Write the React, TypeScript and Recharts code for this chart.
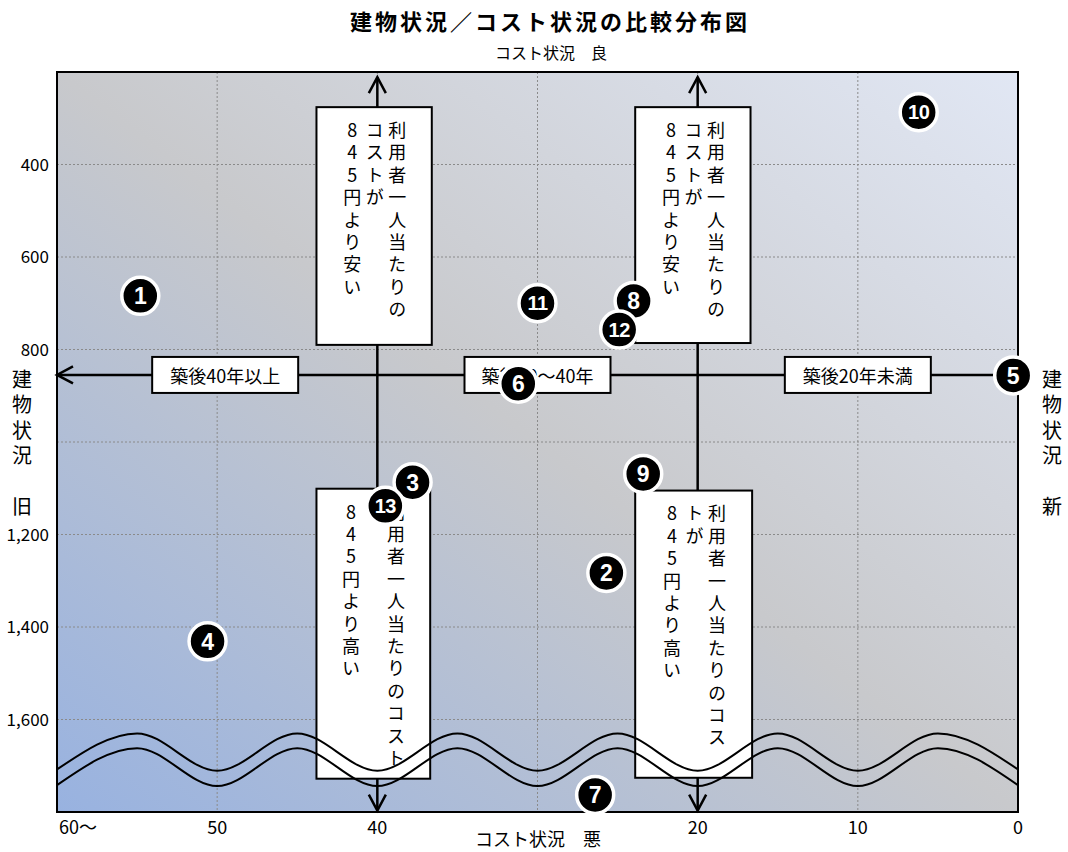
import React from 'react';
import {
  ComposedChart,
  XAxis,
  YAxis,
  CartesianGrid,
  Scatter,
  Line,
  ReferenceArea,
  ReferenceLine,
  ReferenceDot,
} from 'recharts';

const W = 1068;
const H = 852;
const FONT = "'Noto Sans CJK JP', 'Noto Sans', sans-serif";
const NUM_FONT = "'Liberation Sans Narrow', 'Liberation Sans', Arial, sans-serif";
const VERTICAL = { writingMode: 'vertical-rl', textOrientation: 'upright' } as any;

// 横軸: 築年数（年）、縦軸: 利用者一人当たりのコスト（円）
const ageTicks = [60, 50, 40, 30, 20, 10, 0];
const costTicks = [400, 600, 800, 1000, 1200, 1400, 1600];

// 施設番号ごとの位置
const facilityIds = [1, 2, 3, 4, 5, 6, 7, 8, 9, 10, 11, 12, 13];
const facilityAges = [54.8, 25.7, 37.8, 50.6, 0.3, 31.2, 26.4, 24.0, 23.4, 6.2, 30.0, 24.9, 39.5];
const facilityCosts = [684, 1283, 1087, 1431, 856, 874, 1763, 695, 1069, 287, 700, 757, 1138];

// 区分線
const ageThresholds = [40, 20];
const costThreshold = 855;

// 区分ラベル
const bandLabels = ['築後40年以上', '築後20～40年', '築後20年未満'];
const bandCenters = [49.5, 30, 10];

// 波線（省略記号）
const waveAges = [60, 55, 50, 45, 40, 35, 30, 25, 20, 15, 10, 5, 0];
const waveUpper = [1708, 1630, 1711, 1630, 1711, 1630, 1711, 1630, 1711, 1630, 1711, 1630, 1708];
const waveLower = [1742, 1662, 1744, 1662, 1744, 1662, 1744, 1662, 1744, 1662, 1744, 1662, 1742];

// 説明ボックス
const notes = [
  { a1: 43.8, a2: 36.6, c1: 276, c2: 790, cols: ['利用者一人当たりの', 'コストが', '845円より安い'] },
  { a1: 23.9, a2: 16.7, c1: 276, c2: 786, cols: ['利用者一人当たりの', 'コストが', '845円より安い'] },
  { a1: 43.8, a2: 36.7, c1: 1101, c2: 1728, cols: ['利用者一人当たりのコスト', '', '845円より高い'] },
  { a1: 23.9, a2: 16.6, c1: 1105, c2: 1726, cols: ['利用者一人当たりのコス', 'トが', '845円より高い'] },
];

const facilities = facilityIds.map((id, i) => ({ id, age: facilityAges[i], cost: facilityCosts[i] }));
const waveData = waveAges.map((age, i) => ({ age, upper: waveUpper[i], lower: waveLower[i] }));

const head = (tx: number, ty: number, fx: number, fy: number) => {
  const dx = fx - tx;
  const dy = fy - ty;
  const len = Math.hypot(dx, dy) || 1;
  const ux = dx / len;
  const uy = dy / len;
  const bx = tx + ux * 16;
  const by = ty + uy * 16;
  const px = -uy * 8.5;
  const py = ux * 8.5;
  return `M ${bx + px} ${by + py} L ${tx} ${ty} L ${bx - px} ${by - py}`;
};

const Arrow = (props: any) => {
  const { x1, y1, x2, y2, both } = props;
  return (
    <g>
      <line x1={x1} y1={y1} x2={x2} y2={y2} stroke="#000" strokeWidth={2.5} />
      <path d={head(x1, y1, x2, y2)} fill="none" stroke="#000" strokeWidth={2.5} />
      {both && <path d={head(x2, y2, x1, y1)} fill="none" stroke="#000" strokeWidth={2.5} />}
    </g>
  );
};

const NoteBox = (props: any) => {
  const { x, y, width, height, cols } = props;
  return (
    <g>
      <rect x={x} y={y} width={width} height={height} fill="#fff" stroke="#000" strokeWidth={2} />
      {cols.map((col: string, ci: number) =>
        col ? (
          <text
            key={ci}
            x={x + width * 0.7 - ci * 22.5}
            y={y + 14}
            fontSize={18}
            fontFamily={FONT}
            fill="#000"
            letterSpacing={4.4}
            style={VERTICAL}
          >
            {col}
          </text>
        ) : null
      )}
    </g>
  );
};

const BandLabel = (props: any) => {
  const { cx, cy, text } = props;
  return (
    <g>
      <rect x={cx - 73} y={cy - 18} width={146} height={36} fill="#fff" stroke="#000" strokeWidth={2} />
      <text x={cx} y={cy} textAnchor="middle" dominantBaseline="central" fontSize={18} fontFamily={FONT} fill="#000">
        {text}
      </text>
    </g>
  );
};

const Marker = (props: any) => {
  const { cx, cy, payload } = props;
  const label = String(payload.id);
  const two = label.length > 1;
  return (
    <g>
      <circle cx={cx} cy={cy} r={18.5} fill="#000" stroke="#fff" strokeWidth={3.5} />
      <text
        x={cx}
        y={cy}
        dy="0.36em"
        textAnchor="middle"
        fill="#fff"
        fontSize={two ? 20 : 23}
        fontWeight="bold"
        fontFamily={NUM_FONT}
        letterSpacing={two ? -0.5 : 0}
      >
        {label}
      </text>
    </g>
  );
};

const AgeTick = (props: any) => {
  const { x, y, payload } = props;
  const v = payload.value;
  if (v === 30) return null;
  const text = v === 60 ? '60～' : String(v);
  return (
    <text x={v === 60 ? x + 2 : x} y={y} dy={14} textAnchor={v === 60 ? 'start' : 'middle'} fontSize={18} fontFamily={FONT} fill="#000">
      {text}
    </text>
  );
};

const CostTick = (props: any) => {
  const { x, y, payload } = props;
  const v = payload.value;
  if (v === 1000) return null;
  return (
    <text x={x} y={y} dy={6} textAnchor="end" fontSize={17} fontFamily={FONT} fill="#000">
      {v.toLocaleString('en-US')}
    </text>
  );
};

const SideLabel = ({ x, end }: { x: number; end: string }) => (
  <g>
    <text x={x} y={369} fontSize={20} fontFamily={FONT} letterSpacing={5.5} style={VERTICAL}>
      建物状況
    </text>
    <text x={x} y={505} textAnchor="middle" dominantBaseline="central" fontSize={20} fontFamily={FONT}>
      {end}
    </text>
  </g>
);

export default function App() {
  return (
    <div style={{ position: 'absolute', left: 0, top: 0, width: W, height: H, background: '#fff' }}>
      <ComposedChart width={W} height={H} margin={{ top: 72, right: 50, bottom: 0, left: 7 }}>
        <defs>
          <linearGradient id="bgGrad" x1="0" y1="1" x2="1" y2="0">
            <stop offset="0%" stopColor="#98b2e0" />
            <stop offset="50%" stopColor="#c8c9cc" />
            <stop offset="100%" stopColor="#e1e7f4" />
          </linearGradient>
        </defs>
        <CartesianGrid
          fill="url(#bgGrad)"
          fillOpacity={1}
          stroke="#8a8a8a"
          strokeDasharray="2 2"
          horizontalValues={costTicks}
          verticalValues={ageTicks}
        />
        <XAxis
          type="number"
          dataKey="age"
          domain={[0, 60]}
          reversed
          ticks={ageTicks}
          tick={<AgeTick />}
          tickLine={false}
          axisLine={{ stroke: '#000', strokeWidth: 2 }}
          height={40}
          interval={0}
        />
        <YAxis
          type="number"
          dataKey="cost"
          domain={[200, 1800]}
          reversed
          ticks={costTicks}
          tick={<CostTick />}
          tickLine={false}
          axisLine={{ stroke: '#000', strokeWidth: 2 }}
          width={50}
          interval={0}
        />
        <ReferenceArea x1={0} x2={60} y1={200} y2={1800} fill="none" stroke="#000" strokeWidth={2} zIndex={120} />
        <ReferenceLine
          segment={[{ x: 60, y: costThreshold }, { x: 0, y: costThreshold }]}
          shape={(p: any) => <Arrow {...p} both={false} />}
          zIndex={150}
        />
        {ageThresholds.map((a) => (
          <ReferenceLine
            key={a}
            segment={[{ x: a, y: 211 }, { x: a, y: 1797 }]}
            shape={(p: any) => <Arrow {...p} both />}
            zIndex={150}
          />
        ))}
        {notes.map((n, i) => (
          <ReferenceArea
            key={i}
            x1={n.a1}
            x2={n.a2}
            y1={n.c1}
            y2={n.c2}
            shape={(p: any) => <NoteBox {...p} cols={n.cols} />}
            zIndex={200}
          />
        ))}
        {bandLabels.map((t, i) => (
          <ReferenceDot
            key={t}
            x={bandCenters[i]}
            y={costThreshold}
            shape={(p: any) => <BandLabel {...p} text={t} />}
            zIndex={250}
          />
        ))}
        <Line data={waveData} type="monotone" dataKey="upper" stroke="#000" strokeWidth={2} dot={false} activeDot={false} isAnimationActive={false} zIndex={400} />
        <Line data={waveData} type="monotone" dataKey="lower" stroke="#000" strokeWidth={2} dot={false} activeDot={false} isAnimationActive={false} zIndex={400} />
        <Scatter data={facilities} shape={<Marker />} isAnimationActive={false} zIndex={600} />
      </ComposedChart>
      <svg width={W} height={H} style={{ position: 'absolute', left: 0, top: 0, pointerEvents: 'none' }}>
        <text x={550} y={20} textAnchor="middle" dominantBaseline="central" fontSize={22} fontWeight="bold" letterSpacing={3} fontFamily={FONT}>
          建物状況／コスト状況の比較分布図
        </text>
        <text x={551} y={52} textAnchor="middle" dominantBaseline="central" fontSize={16} fontFamily={FONT}>
          コスト状況　良
        </text>
        <text x={538} y={838} textAnchor="middle" dominantBaseline="central" fontSize={18} fontFamily={FONT}>
          コスト状況　悪
        </text>
        <SideLabel x={22} end="旧" />
        <SideLabel x={1052} end="新" />
      </svg>
    </div>
  );
}
